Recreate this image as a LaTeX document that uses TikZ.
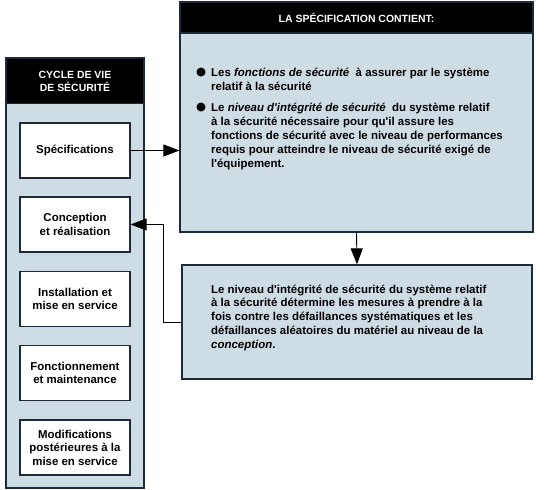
\documentclass[tikz,border=0pt]{standalone}
\usepackage{fontspec}
\setmainfont{Liberation Sans}[Ligatures=TeXOff]
\newfontfamily\symfont{DejaVu Sans}
\usetikzlibrary{arrows.meta}

\definecolor{panelfill}{RGB}{206,221,228}
\definecolor{panelline}{RGB}{30,42,56}

\tikzset{
	panel/.style={draw=panelline, line width=1.2bp, fill=panelfill, inner sep=0pt},
	headbox/.style={draw=panelline, line width=1.2bp, fill=black, text=white, inner sep=0pt,
		font=\bfseries\fontsize{10.5}{13}\selectfont, align=center},
	stagebox/.style={draw=panelline, line width=1.2bp, fill=white, inner sep=0pt,
		minimum width=110bp, minimum height=55bp, align=center,
		font=\bfseries\fontsize{11.5}{13.5}\selectfont},
	bodytext/.style={anchor=north west, inner sep=0pt, align=left,
		font=\bfseries\fontsize{11.5}{14.2}\selectfont},
	link/.style={draw=black, line width=0.9bp, -{Triangle[length=16bp,width=12bp]}}
}

\begin{document}
\begin{tikzpicture}[x=1bp,y=-1bp]
	\useasboundingbox (0,0) rectangle (550,490);

	% cycle de vie
	\node[panel, minimum width=138bp, minimum height=430bp] (cycle) at (75,273) {};
	\node[headbox, minimum width=138bp, minimum height=45bp] (cyclehead) at (75,81) {CYCLE DE VIE\\DE SÉCURITÉ};
	\node[stagebox] (spec) at (75,150.5) {Spécifications};
	\node[stagebox] (conc) at (75,224.5) {Conception\\et réalisation};
	\node[stagebox] (inst) at (75,299) {Installation et\\mise en service};
	\node[stagebox] (fonc) at (75,373) {Fonctionnement\\et maintenance};
	\node[stagebox] (modif) at (75,447.5) {Modifications\\postérieures à la\\mise en service};

	% specification
	\node[panel, minimum width=353bp, minimum height=230bp] (specbox) at (356.5,117) {};
	\node[headbox, minimum width=353bp, minimum height=31bp] (spechead) at (356.5,17.5) {LA SPÉCIFICATION CONTIENT:};
	\node[bodytext] (bulleta) at (196,67.5) {\symfont ●};
	\node[bodytext] (texta) at (211,67.5) {Les \textit{fonctions de sécurité}\ \ à assurer par le système\\relatif à la sécurité};
	\node[bodytext] (bulletb) at (196,102.5) {\symfont ●};
	\node[bodytext] (textb) at (211,102.5) {Le \textit{niveau d'intégrité de sécurité}\ \ du système relatif\\à la sécurité nécessaire pour qu'il assure les\\fonctions de sécurité avec le niveau de performances\\requis pour atteindre le niveau de sécurité exigé de\\l'équipement.};

	% niveau d'integrite
	\node[panel, minimum width=350bp, minimum height=114bp] (silbox) at (357,322) {};
	\node[bodytext, font=\bfseries\fontsize{11.5}{13.8}\selectfont] (siltext) at (211,284.5) {Le niveau d'intégrité de sécurité du système relatif\\à la sécurité détermine les mesures à prendre à la\\fois contre les défaillances systématiques et les\\défaillances aléatoires du matériel au niveau de la\\\textit{conception}.};

	% arrows
	\draw[link] (spec.east) -- (spec.east -| specbox.west);
	\draw[link] (specbox.south) -- (silbox.north);
	\draw[link] (silbox.west) -- ++(-18,0) |- (conc.east);

\end{tikzpicture}
\end{document}
